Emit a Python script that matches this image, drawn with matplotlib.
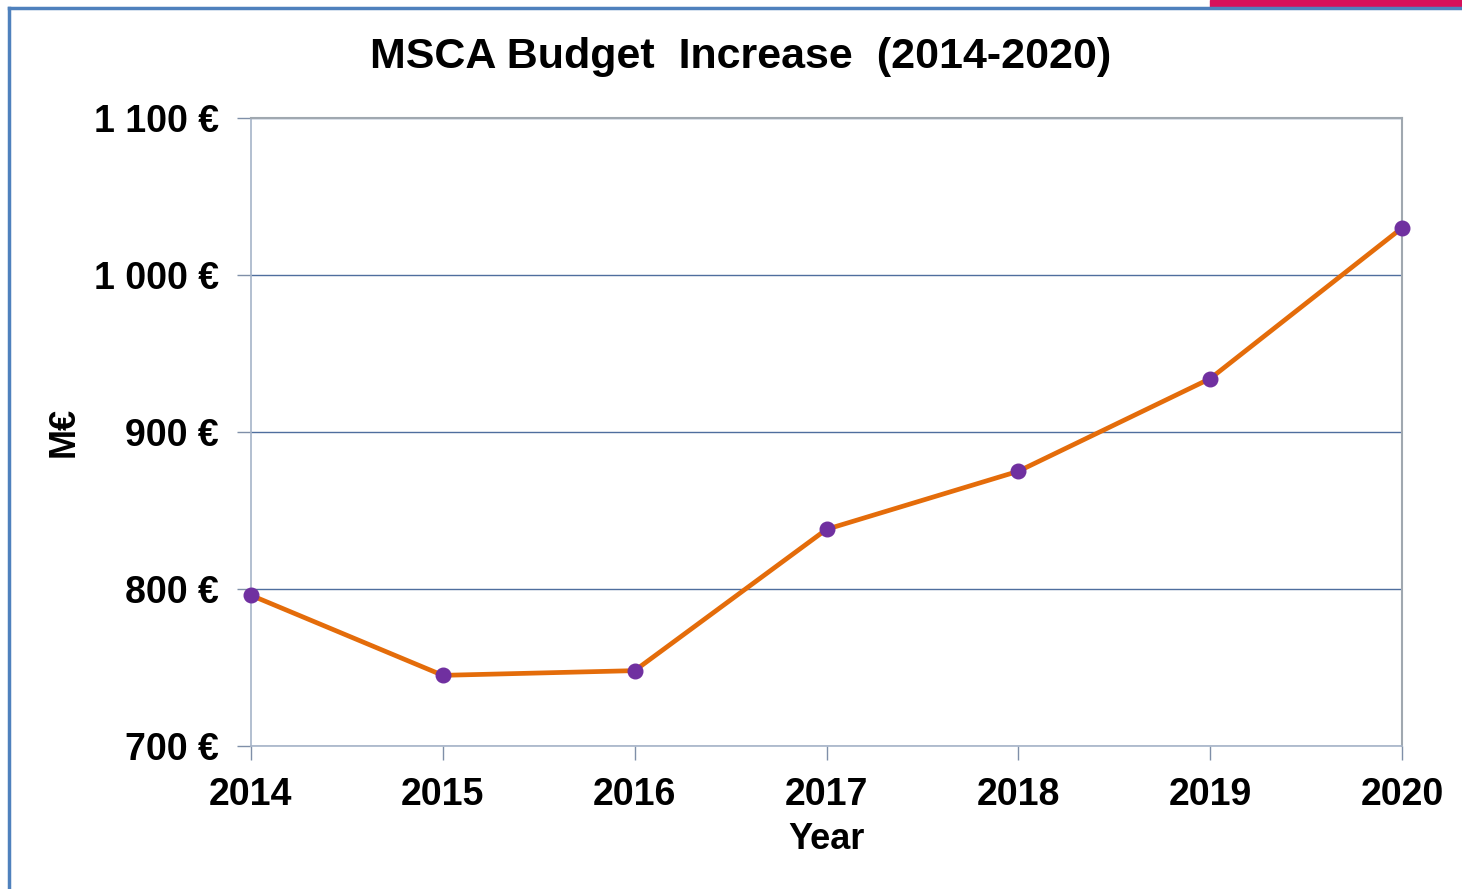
import matplotlib.pyplot as plt
from matplotlib.lines import Line2D
from matplotlib.patches import Rectangle

plt.rcParams['font.family'] = ['Liberation Sans', 'DejaVu Sans']

years = [2014, 2015, 2016, 2017, 2018, 2019, 2020]
budget = [796, 745, 748, 838, 875, 934, 1030]
yticks = [700, 800, 900, 1000, 1100]
ytick_labels = ['700 €', '800 €', '900 €', '1 000 €', '1 100 €']

fig = plt.figure(figsize=(14.62, 8.89), dpi=100)
ax = fig.add_axes([251 / 1462, 143 / 889, 1151 / 1462, 628 / 889])

ax.plot(years, budget, color='#E46C0A', lw=3.4, marker='o',
        markersize=10.5, markerfacecolor='#7030A0', markeredgecolor='#7030A0',
        zorder=3, clip_on=False)

ax.set_xlim(2014, 2020)
ax.set_ylim(700, 1100)
ax.set_xticks(years)
ax.set_yticks(yticks)
ax.set_yticklabels(ytick_labels)
ax.yaxis.grid(True, color='#4F6E9E', lw=1)
ax.set_axisbelow(True)

for s in ['left', 'bottom']:
    ax.spines[s].set_color('#A6B4C8')
    ax.spines[s].set_linewidth(1.2)
for s in ['top', 'right']:
    ax.spines[s].set_color('#A0A8B0')
    ax.spines[s].set_linewidth(1.5)

ax.tick_params(axis='both', length=10, width=1, color='#7F8FA8',
               labelsize=27)
ax.tick_params(axis='y', pad=13)
ax.tick_params(axis='x', pad=12)
for t in ax.get_xticklabels() + ax.get_yticklabels():
    t.set_fontweight('bold')

ax.set_xlabel('Year', fontsize=26, fontweight='bold', labelpad=7)
ax.set_ylabel('M€', fontsize=26, fontweight='bold', labelpad=9)
fig.text(741 / 1462, 1 - 57 / 889, 'MSCA Budget  Increase  (2014-2020)',
         fontsize=31, fontweight='bold', ha='center', va='center')

# slide frame around the chart
fig.add_artist(Line2D([9 / 1462, 1], [1 - 8 / 889, 1 - 8 / 889],
                      transform=fig.transFigure, color='#4F81BD', lw=2.5))
fig.add_artist(Line2D([9 / 1462, 9 / 1462], [0, 1 - 8 / 889],
                      transform=fig.transFigure, color='#4F81BD', lw=2.5))
fig.add_artist(Rectangle((1210 / 1462, 1 - 7 / 889), 252 / 1462, 7 / 889,
                         transform=fig.transFigure, color='#D6105A'))

fig.savefig('out.png', dpi=100)
